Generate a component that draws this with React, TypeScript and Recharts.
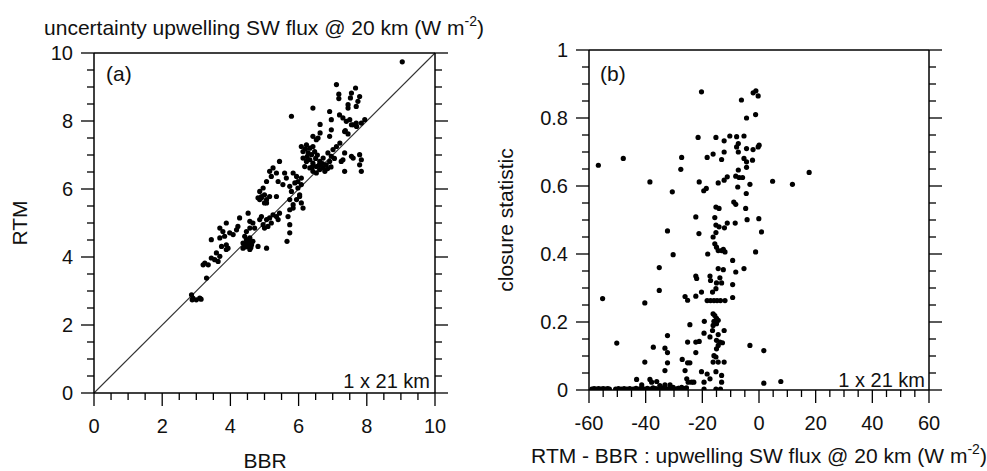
import React from "react";
import { ScatterChart, Scatter, XAxis, YAxis, ReferenceLine } from "recharts";

// panel (a): BBR vs RTM uncertainty
const bbr = [
  9.04, 7.11, 7.67, 7.18, 7.18, 7.55, 7.52, 7.45, 7.45, 7.79, 7.74, 7.69, 6.42, 5.79, 6.91, 6.96,
  7.2, 7.3, 7.4, 7.5, 7.6, 7.7, 7.84, 7.94, 7.37, 7.45, 6.63, 6.63, 6.57, 6.96, 6.91, 7.55, 7.35,
  7.69, 6.42, 6.52,
  6.08, 6.23, 6.33, 6.42, 6.13, 6.28, 6.38, 6.47, 6.13, 6.23, 6.33, 6.42, 6.18, 6.33, 6.52, 6.62,
  6.72, 6.81, 6.91, 6.96, 6.86, 7.01, 7.11, 7.21, 6.72, 6.62, 6.77, 6.52, 6.42, 6.25, 6.5, 6.55,
  6.4, 6.6, 6.7, 6.85, 6.95, 7.05, 6.2,
  7.35, 7.3, 7.55, 7.6, 7.79, 7.84, 7.79, 7.84, 7.35, 7.25,
  5.44, 5.25, 5.35, 5.2, 5.59, 5.64, 5.4, 5.54, 5.84, 5.94, 5.89, 5.74, 6.08, 5.98, 5.79, 5.06, 5.15,
  4.96, 4.86, 5.0, 4.91, 4.86, 5.06, 5.35, 6.08, 5.98, 6.03, 5.94, 5.84, 5.74, 6.08, 6.13, 5.69,
  5.74, 5.74, 5.66,
  4.81, 4.91, 5.06, 5.15, 5.0, 5.74, 6.03, 5.84,
  4.52, 4.27, 4.57, 4.66, 4.71, 4.86, 4.91, 5.06, 5.15, 5.2, 5.25, 5.35, 5.4, 5.44, 4.96, 5.0, 5.1,
  4.57, 4.47, 4.42, 4.47, 4.37, 4.42, 4.52, 4.62, 4.66, 4.57, 4.37, 4.57, 4.81, 5.06, 4.5, 4.55,
  4.45, 4.6, 4.5,
  3.88, 3.69, 3.78, 3.98, 4.08, 4.22, 3.44, 3.69, 3.83, 3.88, 3.74, 3.88, 3.59, 3.69, 3.54, 3.44,
  3.25, 3.35, 3.2, 3.64, 3.93, 4.18,
  3.3, 2.86, 2.9, 3.0, 3.1, 2.88, 3.14,
];
const rtm = [
  9.74, 9.07, 8.97, 8.79, 8.66, 8.82, 8.68, 8.48, 8.38, 8.72, 8.58, 8.43, 8.38, 8.14, 8.28, 8.04,
  8.18, 8.09, 7.99, 8.04, 7.89, 7.84, 7.94, 8.04, 7.72, 7.62, 7.9, 7.65, 7.5, 7.74, 7.55, 7.89, 7.69,
  7.94, 7.55, 7.45,
  7.25, 7.3, 7.2, 7.25, 7.1, 7.06, 7.01, 7.1, 6.91, 6.81, 6.86, 6.76, 6.66, 6.62, 6.66, 6.57,
  6.62, 6.71, 6.81, 6.96, 7.06, 7.16, 7.25, 7.35, 6.91, 6.81, 6.52, 6.47, 6.52, 6.95, 6.9, 7.0,
  6.65, 6.7, 6.75, 6.6, 6.65, 6.9, 7.18,
  7.06, 6.86, 6.96, 6.91, 7.01, 6.86, 6.71, 6.52, 6.52, 6.81,
  6.81, 6.62, 6.47, 6.37, 6.47, 6.32, 6.22, 6.13, 6.47, 6.37, 6.18, 6.08, 6.32, 6.03, 5.93, 6.22, 6.52,
  6.03, 5.93, 5.83, 5.74, 5.69, 5.59, 5.78, 6.13, 6.22, 5.83, 5.69, 5.54, 5.39, 5.59, 5.44, 5.19,
  4.95, 4.71, 4.46,
  5.74, 5.78, 5.69, 5.78, 5.59, 5.69, 5.78, 5.44,
  5.29, 5.15, 5.05, 5.0, 4.85, 5.1, 5.19, 5.1, 5.15, 5.0, 5.24, 5.19, 5.1, 5.29, 4.95, 4.85, 4.9,
  4.85, 4.75, 4.61, 4.51, 4.41, 4.36, 4.31, 4.36, 4.46, 4.56, 4.26, 4.22, 4.31, 4.26, 4.4, 4.45,
  4.3, 4.28, 4.5,
  5.0, 4.85, 4.75, 4.71, 4.66, 4.9, 4.51, 4.56, 4.61, 4.36, 4.31, 4.22, 4.12, 4.02, 3.92, 3.97,
  3.82, 3.77, 3.77, 3.87, 4.26, 4.8,
  3.38, 2.89, 2.79, 2.74, 2.79, 2.74, 2.76,
];

// panel (b): RTM - BBR difference vs closure statistic
const diff = [
  -20.3, -6.2, -2.06, -1.1, -0.3, -4.4, -1.2, -21.5, -15.2, -12.3, -10.3, -7.9, -5.3, -7.3, -7.9,
  -7.3, -4.4, -2.1, -0.3, 0.05, -16.2, -18.3, -12.3, -13.2, -56.7, -47.9, -27.3, -27.6, -5.3, -4.4,
  -2.3, -4.4, 17.7, -7.3, -38.5, -21.1, -14.4, -12.3, -11.2, -8.2, -7.0, -5.8, -3.2, 4.8, 11.8,
  -30.6, -19.5, -18.6, -7.5, -4.5, -15.2, -14.1, -8.9, -8.2, -4.7, -22.3, -15.6, -15.2, -14.1,
  -11.2, -8.4, -4.2, -0.06, -12.2, 0.9, -32.3, -21.2, -15.2, -16.2, -15.6, -15.0, -14.4, -13.2,
  -12.6, -12.0, -18.1, -1.2, -30.3, -35.2, -14.4, -12.6, -9.3, -8.2, -5.3, -22.3, -22.0, -17.3,
  -17.1, -13.8, -15.0, -13.2, -15.2, -16.4, -9.3, -9.3, -35.2, -26.1, -25.2, -22.3, -20.3, -18.3,
  -17.1, -15.9, -14.8, -13.6, -12.0, -55.2, -40.3, -16.2, -15.6, -15.0, -14.4, -15.9, -15.0,
  -16.2, -16.4, -24.4, -19.3, -19.4, -17.3, -14.4, -12.3, -32.3, -50.2, -37.3, -33.2, -32.3,
  -25.2, -22.3, -21.1, -22.3, -15.0, -13.8, -12.9, -14.4, -15.0, -15.9, -15.2, -14.4, -12.3,
  -16.2, -3.2, 1.7, -40.3, -32.3, -33.2, -27.1, -25.2, -24.4, -26.1, -25.5, -25.0, -23.8, -23.0,
  -20.3, -18.3, -17.3, -19.4, -15.2, -13.2, -13.2, 1.7, 7.7, -43.2, -41.4, -38.5, -37.9, -36.1,
  -35.0, -33.2, -31.4, -30.3, -28.5, -27.3,
  -59, -58.2, -57.4, -56.6, -55.8, -55, -54.2, -53.4, -52.8, -50.6, -49.6, -48.6, -47.6, -46.6,
  -45.6, -44.4, -43.4, -42.4, -41.4, -40.4, -39.4, -38.4, -37.4, -36.4, -35.4, -34.4, -33.4,
  -32.4, -31.4, -30.4, -29.4, -28.4, -27.4, -26.4, -25.6, -19.4, -15.2, -13.6,
];
const closure = [
  0.877, 0.853, 0.874, 0.88, 0.865, 0.8, 0.81, 0.743, 0.743, 0.733, 0.747, 0.745, 0.747, 0.725,
  0.715, 0.7, 0.71, 0.707, 0.715, 0.72, 0.694, 0.684, 0.7, 0.678, 0.661, 0.681, 0.684, 0.649, 0.681,
  0.671, 0.676, 0.655, 0.64, 0.647, 0.612, 0.612, 0.609, 0.617, 0.627, 0.629, 0.625, 0.625, 0.605,
  0.614, 0.605, 0.583, 0.586, 0.593, 0.597, 0.578, 0.538, 0.534, 0.553, 0.546, 0.534, 0.509,
  0.507, 0.485, 0.48, 0.491, 0.491, 0.501, 0.504, 0.477, 0.465, 0.468, 0.46, 0.463, 0.45, 0.43,
  0.42, 0.41, 0.41, 0.414, 0.406, 0.4, 0.406, 0.398, 0.36, 0.357, 0.354, 0.381, 0.347, 0.357,
  0.335, 0.328, 0.335, 0.322, 0.33, 0.315, 0.315, 0.298, 0.288, 0.31, 0.272, 0.293, 0.275, 0.264,
  0.276, 0.288, 0.263, 0.263, 0.263, 0.263, 0.263, 0.263, 0.269, 0.256, 0.224, 0.219, 0.211,
  0.205, 0.202, 0.195, 0.19, 0.175, 0.192, 0.202, 0.167, 0.156, 0.163, 0.175, 0.16, 0.138, 0.126,
  0.123, 0.11, 0.141, 0.141, 0.143, 0.11, 0.146, 0.141, 0.139, 0.131, 0.121, 0.101, 0.097, 0.082,
  0.082, 0.082, 0.131, 0.116, 0.082, 0.08, 0.057, 0.09, 0.08, 0.08, 0.057, 0.033, 0.023, 0.023,
  0.023, 0.054, 0.047, 0.033, 0.023, 0.054, 0.043, 0.023, 0.02, 0.025, 0.031, 0.015, 0.031, 0.023,
  0.025, 0.013, 0.015, 0.015, 0.008, 0.005, 0.008,
  0.003, 0.004, 0.003, 0.004, 0.003, 0.004, 0.003, 0.004, 0.003, 0.003, 0.004, 0.003, 0.004, 0.003,
  0.004, 0.003, 0.005, 0.003, 0.006, 0.003, 0.005, 0.003, 0.006, 0.004, 0.003, 0.006, 0.004,
  0.003, 0.006, 0.004, 0.003, 0.005, 0.003, 0.004, 0.006, 0.003, 0.003, 0.003,
];

const ticksA = [0, 0.5, 1, 1.5, 2, 2.5, 3, 3.5, 4, 4.5, 5, 5.5, 6, 6.5, 7, 7.5, 8, 8.5, 9, 9.5, 10];
const ticksBx = [-60, -55, -50, -45, -40, -35, -30, -25, -20, -15, -10, -5, 0, 5, 10, 15, 20, 25, 30, 35, 40, 45, 50, 55, 60];
const ticksBy = [0, 0.05, 0.1, 0.15, 0.2, 0.25, 0.3, 0.35, 0.4, 0.45, 0.5, 0.55, 0.6, 0.65, 0.7, 0.75, 0.8, 0.85, 0.9, 0.95, 1];

const pointsA = bbr.map((x, i) => ({ x, y: rtm[i] }));
const pointsB = diff.map((x, i) => ({ x, y: closure[i] }));

const FONT = '"Liberation Sans", Arial, Helvetica, sans-serif';
const axisLine = { stroke: "#000", strokeWidth: 1.5 };

function AxisTick(props: any) {
  const { x, y, payload, side, major, label } = props;
  const v = payload.value;
  const isMajor = Math.abs(v / major - Math.round(v / major)) < 1e-6;
  const len = isMajor ? 13 : 7;
  let line;
  let text = null;
  if (side === "bottom") {
    line = <line x1={x} y1={y} x2={x} y2={y + len} stroke="#000" strokeWidth={1.3} />;
    if (label && isMajor)
      text = <text x={x} y={y + 40} textAnchor="middle" fontSize={20} fontFamily={FONT} fill="#111">{String(v)}</text>;
  } else if (side === "top") {
    line = <line x1={x} y1={y} x2={x} y2={y - len} stroke="#000" strokeWidth={1.3} />;
  } else if (side === "left") {
    line = <line x1={x} y1={y} x2={x - len} y2={y} stroke="#000" strokeWidth={1.3} />;
    if (label && isMajor)
      text = <text x={x - 21} y={y + 7} textAnchor="end" fontSize={20} fontFamily={FONT} fill="#111">{String(v)}</text>;
  } else {
    line = <line x1={x} y1={y} x2={x + len} y2={y} stroke="#000" strokeWidth={1.3} />;
  }
  return (
    <g>
      {line}
      {text}
    </g>
  );
}

const Dot = (p: any) => <circle cx={p.cx} cy={p.cy} r={2.6} fill="#000" />;

function Panel(props: {
  width: number; left: number; right: number; top: number; bottom: number;
  domainX: number[]; domainY: number[]; ticksX: number[]; ticksY: number[];
  majorX: number; majorY: number; data: { x: number; y: number }[]; diagonal?: boolean;
}) {
  const { width, left, right, top, bottom, domainX, domainY, ticksX, ticksY, majorX, majorY, data } = props;
  const common = { type: "number" as const, tickSize: 0, tickMargin: 0, tickLine: false, axisLine, interval: 0 as const, allowDataOverflow: true };
  return (
    <ScatterChart width={width} height={471} margin={{ top: 0, right: 0, bottom: 0, left: 0 }}>
      <XAxis {...common} dataKey="x" domain={domainX} ticks={ticksX} height={bottom}
        tick={(p: any) => <AxisTick {...p} side="bottom" major={majorX} label />} />
      <XAxis {...common} xAxisId="top" orientation="top" domain={domainX} ticks={ticksX} height={top}
        tick={(p: any) => <AxisTick {...p} side="top" major={majorX} />} />
      <YAxis {...common} dataKey="y" domain={domainY} ticks={ticksY} width={left}
        tick={(p: any) => <AxisTick {...p} side="left" major={majorY} label />} />
      <YAxis {...common} yAxisId="right" orientation="right" domain={domainY} ticks={ticksY} width={right}
        tick={(p: any) => <AxisTick {...p} side="right" major={majorY} />} />
      {props.diagonal && (
        <ReferenceLine segment={[{ x: 0, y: 0 }, { x: 10, y: 10 }]} stroke="#333" strokeWidth={1.1} />
      )}
      <Scatter data={data} shape={Dot} isAnimationActive={false} />
    </ScatterChart>
  );
}

export default function App() {
  return (
    <div style={{ position: "absolute", left: 0, top: 0, width: 987, height: 471, background: "#fff" }}>
      <div style={{ position: "absolute", left: 0, top: 0 }}>
        <Panel width={480} left={94} right={45} top={53} bottom={78}
          domainX={[0, 10]} domainY={[0, 10]} ticksX={ticksA} ticksY={ticksA}
          majorX={2} majorY={2} data={pointsA} diagonal />
      </div>
      <div style={{ position: "absolute", left: 490, top: 0 }}>
        <Panel width={497} left={99} right={58} top={50} bottom={81}
          domainX={[-60, 60]} domainY={[0, 1]} ticksX={ticksBx} ticksY={ticksBy}
          majorX={20} majorY={0.2} data={pointsB} />
      </div>
      <svg width={987} height={471} style={{ position: "absolute", left: 0, top: 0, pointerEvents: "none" }}
        fontFamily={FONT} fill="#111">
        <text x={264} y={35} textAnchor="middle" fontSize={21}>
          uncertainty upwelling SW flux @ 20 km (W m<tspan dy={-9} fontSize={14}>-2</tspan><tspan dy={9}>)</tspan>
        </text>
        <text x={27} y={223} textAnchor="middle" fontSize={21} transform="rotate(-90 27 223)">RTM</text>
        <text x={265} y={468} textAnchor="middle" fontSize={21}>BBR</text>
        <text x={106} y={81} fontSize={21}>(a)</text>
        <text x={430} y={388} textAnchor="end" fontSize={20}>1 x 21 km</text>

        <text x={513} y={220} textAnchor="middle" fontSize={21} transform="rotate(-90 513 220)">closure statistic</text>
        <text x={759} y={463} textAnchor="middle" fontSize={21}>
          RTM - BBR : upwelling SW flux @ 20 km (W m<tspan dy={-9} fontSize={14}>-2</tspan><tspan dy={9}>)</tspan>
        </text>
        <text x={600} y={81} fontSize={21}>(b)</text>
        <text x={925} y={387} textAnchor="end" fontSize={20}>1 x 21 km</text>
      </svg>
    </div>
  );
}
